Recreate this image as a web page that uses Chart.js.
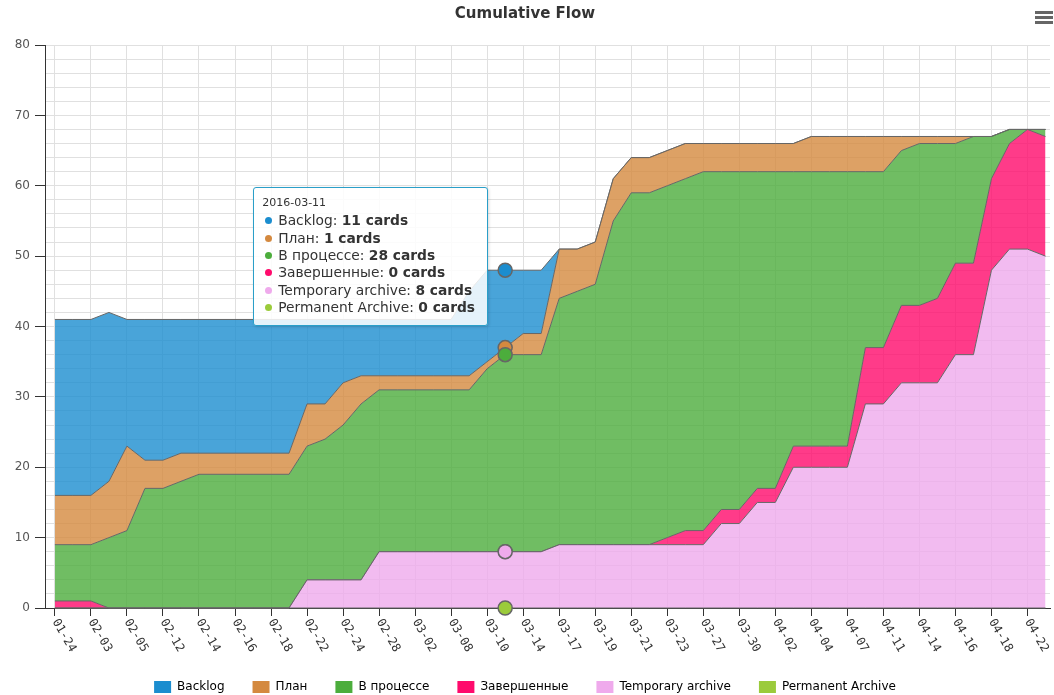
<!DOCTYPE html>
<html>
<head>
<meta charset="utf-8">
<title>Cumulative Flow</title>
<script src="https://cdn.jsdelivr.net/npm/chart.js@4.4.1/dist/chart.umd.min.js"></script>
<style>
    html, body { margin: 0; padding: 0; background: #fff; }
    #wrap { position: relative; width: 1054px; height: 695px; }
    #menu { position: absolute; top: 11px; right: 1px; width: 18px; }
    #menu span { display: block; height: 3px; background: #666; margin-bottom: 2px; }
    #tip {
        position: absolute; display: none; white-space: nowrap;
        background: rgba(255, 255, 255, 0.86); border: 1px solid #2a9fc9; border-radius: 3px;
        box-shadow: 1px 1px 3px rgba(0, 0, 0, 0.15);
        padding: 8px 12px 8px 8px; color: #333; font: 13.8px "DejaVu Sans", sans-serif;
    }
    #tip .tt-title { font-size: 11px; line-height: 14px; margin-bottom: 2px; }
    #tip .tt-row { line-height: 17.4px; }
    #tip .dot { display: inline-block; width: 7px; height: 7px; border-radius: 50%; margin: 0 6px 1px 3px; }
</style>
</head>
<body>
<div id="wrap">
    <canvas id="cfd" width="1054" height="695"></canvas>
    <div id="menu"><span></span><span></span><span></span></div>
    <div id="tip"></div>
</div>
<script>
const dates = [
    '2016-01-24', '2016-02-01', '2016-02-03', '2016-02-04', '2016-02-05', '2016-02-10', '2016-02-12',
    '2016-02-13', '2016-02-14', '2016-02-15', '2016-02-16', '2016-02-17', '2016-02-18', '2016-02-21',
    '2016-02-22', '2016-02-23', '2016-02-24', '2016-02-25', '2016-02-28', '2016-03-01', '2016-03-02',
    '2016-03-07', '2016-03-08', '2016-03-09', '2016-03-10', '2016-03-11', '2016-03-14', '2016-03-15',
    '2016-03-17', '2016-03-18', '2016-03-19', '2016-03-20', '2016-03-21', '2016-03-22', '2016-03-23',
    '2016-03-24', '2016-03-27', '2016-03-28', '2016-03-30', '2016-03-31', '2016-04-02', '2016-04-03',
    '2016-04-04', '2016-04-05', '2016-04-07', '2016-04-08', '2016-04-11', '2016-04-12', '2016-04-14',
    '2016-04-15', '2016-04-16', '2016-04-17', '2016-04-18', '2016-04-19', '2016-04-22', '2016-04-25'
];

const backlog = [
    25, 25, 25, 24, 18, 20, 20, 19, 19, 19, 19, 19, 19, 19,
    12, 12, 9, 8, 8, 8, 8, 8, 8, 12, 13, 11, 9, 9,
    0, 0, 0, 0, 0, 0, 0, 0, 0, 0, 0, 0, 0, 0,
    0, 0, 0, 0, 0, 0, 0, 0, 0, 0, 0, 0, 0, 0
];
const plan = [
    7, 7, 7, 8, 12, 4, 4, 4, 3, 3, 3, 3, 3, 3,
    6, 5, 6, 4, 2, 2, 2, 2, 2, 2, 1, 1, 3, 3,
    7, 6, 6, 6, 5, 5, 5, 5, 4, 4, 4, 4, 4, 4,
    5, 5, 5, 5, 5, 2, 1, 1, 1, 0, 0, 0, 0, 0
];
const inProgress = [
    8, 8, 8, 10, 11, 17, 17, 18, 19, 19, 19, 19, 19, 19,
    19, 20, 22, 25, 23, 23, 23, 23, 23, 23, 26, 28, 28, 28,
    35, 36, 37, 46, 50, 50, 50, 50, 51, 48, 48, 45, 45, 39,
    39, 39, 39, 25, 25, 22, 23, 22, 17, 18, 6, 2, 0, 1
];
const done = [
    1, 1, 1, 0, 0, 0, 0, 0, 0, 0, 0, 0, 0, 0,
    0, 0, 0, 0, 0, 0, 0, 0, 0, 0, 0, 0, 0, 0,
    0, 0, 0, 0, 0, 0, 1, 2, 2, 2, 2, 2, 2, 3,
    3, 3, 3, 8, 8, 11, 11, 12, 13, 13, 13, 15, 17, 17
];
const tempArchive = [
    0, 0, 0, 0, 0, 0, 0, 0, 0, 0, 0, 0, 0, 0,
    4, 4, 4, 4, 8, 8, 8, 8, 8, 8, 8, 8, 8, 8,
    9, 9, 9, 9, 9, 9, 9, 9, 9, 12, 12, 15, 15, 20,
    20, 20, 20, 29, 29, 32, 32, 32, 36, 36, 48, 51, 51, 50
];
const permArchive = [
    0, 0, 0, 0, 0, 0, 0, 0, 0, 0, 0, 0, 0, 0,
    0, 0, 0, 0, 0, 0, 0, 0, 0, 0, 0, 0, 0, 0,
    0, 0, 0, 0, 0, 0, 0, 0, 0, 0, 0, 0, 0, 0,
    0, 0, 0, 0, 0, 0, 0, 0, 0, 0, 0, 0, 0, 0
];

const seriesNames = ['Backlog', 'План', 'В процессе', 'Завершенные', 'Temporary archive', 'Permanent Archive'];
const seriesColors = ['#1b8dcf', '#d4893f', '#4cad3c', '#ff0a6c', '#efaaec', '#9bcb3b'];
const seriesValues = [backlog, plan, inProgress, done, tempArchive, permArchive];
const hoverIndex = 25;

document.addEventListener('DOMContentLoaded', () => {
    drawChart();
});

function fade(hex, alpha) {
    const n = parseInt(hex.slice(1), 16);
    return `rgba(${n >> 16}, ${(n >> 8) & 255}, ${n & 255}, ${alpha})`;
}

// Highcharts-like rotated date labels (start at the tick, run down-right)
const xLabelsPlugin = {
    id: 'xLabels',
    afterDraw(chart) {
        const { ctx } = chart;
        const scale = chart.scales.x;
        ctx.save();
        ctx.font = '12px "DejaVu Sans Mono", monospace';
        ctx.fillStyle = '#333';
        ctx.textAlign = 'left';
        ctx.textBaseline = 'middle';
        scale.ticks.forEach(t => {
            ctx.save();
            ctx.translate(scale.getPixelForValue(t.value), scale.top + 12);
            ctx.rotate(Math.PI / 3);
            ctx.fillText(t.label, 0, 0);
            ctx.restore();
        });
        ctx.restore();
    }
};

function renderTip(context) {
    const tip = context.tooltip;
    const el = document.getElementById('tip');
    if (!tip.dataPoints || !tip.dataPoints.length || tip.opacity === 0) {
        el.style.display = 'none';
        return;
    }
    const items = tip.dataPoints.slice().sort((a, b) => b.datasetIndex - a.datasetIndex);
    let html = `<div class="tt-title">${dates[items[0].dataIndex]}</div>`;
    items.forEach(it => {
        const s = seriesNames.indexOf(it.dataset.label);
        html += `<div class="tt-row"><span class="dot" style="background:${seriesColors[s]}"></span>` +
            `${it.dataset.label}: <b>${it.raw.y} cards</b></div>`;
    });
    el.innerHTML = html;
    el.style.display = 'block';
    const topY = Math.min(...items.map(it => it.element.y));
    el.style.left = (tip.caretX - 17 - el.offsetWidth) + 'px';
    el.style.top = (topY - 83) + 'px';
}

function drawChart() {
    const ctx = document.getElementById('cfd').getContext('2d');

    // stack bottom-up: the last series sits on the axis
    const datasets = seriesNames.map((name, s) => ({
        label: name,
        data: seriesValues[s].map((v, i) => ({ x: i, y: v })),
        backgroundColor: fade(seriesColors[s], 0.8),
        borderColor: '#666',
        borderWidth: 1,
        tension: 0,
        pointRadius: 0,
        pointHoverRadius: 7,
        pointHoverBorderWidth: 1.5,
        pointHoverBorderColor: '#666',
        pointHoverBackgroundColor: seriesColors[s],
        clip: false
    })).reverse();
    datasets.forEach((d, i) => { d.fill = i === 0 ? 'origin' : '-1'; });

    const chart = new Chart(ctx, {
        type: 'line',
        data: { datasets: datasets },
        plugins: [xLabelsPlugin],
        options: {
            responsive: false,
            animation: false,
            events: [],
            layout: { padding: { left: 0, right: 4, top: 0, bottom: -8 } },
            plugins: {
                title: {
                    display: true,
                    text: 'Cumulative Flow',
                    color: '#333',
                    font: { family: '"DejaVu Sans", sans-serif', size: 15, weight: 'bold' },
                    padding: { top: 5, bottom: 22 }
                },
                legend: {
                    position: 'bottom',
                    labels: {
                        color: '#333',
                        font: { family: '"DejaVu Sans", sans-serif', size: 12 },
                        boxWidth: 17,
                        boxHeight: 12,
                        padding: 28,
                        generateLabels: () => seriesNames.map((name, s) => ({
                            text: name,
                            fillStyle: seriesColors[s],
                            strokeStyle: seriesColors[s],
                            lineWidth: 0,
                            hidden: false,
                            datasetIndex: seriesNames.length - 1 - s
                        }))
                    }
                },
                tooltip: {
                    enabled: false,
                    mode: 'index',
                    external: renderTip
                }
            },
            scales: {
                x: {
                    type: 'linear',
                    min: -0.55,
                    max: 55.25,
                    afterBuildTicks: (scale) => {
                        scale.ticks = dates.map((d, i) => ({ value: i })).filter(t => t.value % 2 === 0);
                    },
                    afterFit: (scale) => { scale.height = 45; },
                    ticks: {
                        display: false,
                        autoSkip: false,
                        callback: (v) => dates[v] ? dates[v].slice(5) : ''
                    },
                    grid: { color: '#e0e0e0', tickColor: '#333', tickLength: 8 },
                    border: { color: '#333' }
                },
                y: {
                    stacked: true,
                    min: 0,
                    max: 80,
                    afterFit: (scale) => { scale.width = 45; },
                    ticks: {
                        stepSize: 2,
                        autoSkip: false,
                        padding: 5,
                        color: '#555',
                        font: { family: '"DejaVu Sans", sans-serif', size: 12 },
                        callback: (v) => v % 10 === 0 ? v : ''
                    },
                    grid: {
                        color: '#e0e0e0',
                        tickLength: 10,
                        tickColor: (c) => c.tick && c.tick.value % 10 === 0 ? '#333' : 'rgba(0,0,0,0)'
                    },
                    border: { color: '#333' }
                }
            }
        }
    });

    // hovered state as in the reference: 2016-03-11
    const active = datasets.map((d, i) => ({ datasetIndex: i, index: hoverIndex }));
    chart.setActiveElements(active);
    chart.update();
    chart.tooltip.setActiveElements(active, { x: 0, y: 0 });
}
</script>
</body>
</html>
